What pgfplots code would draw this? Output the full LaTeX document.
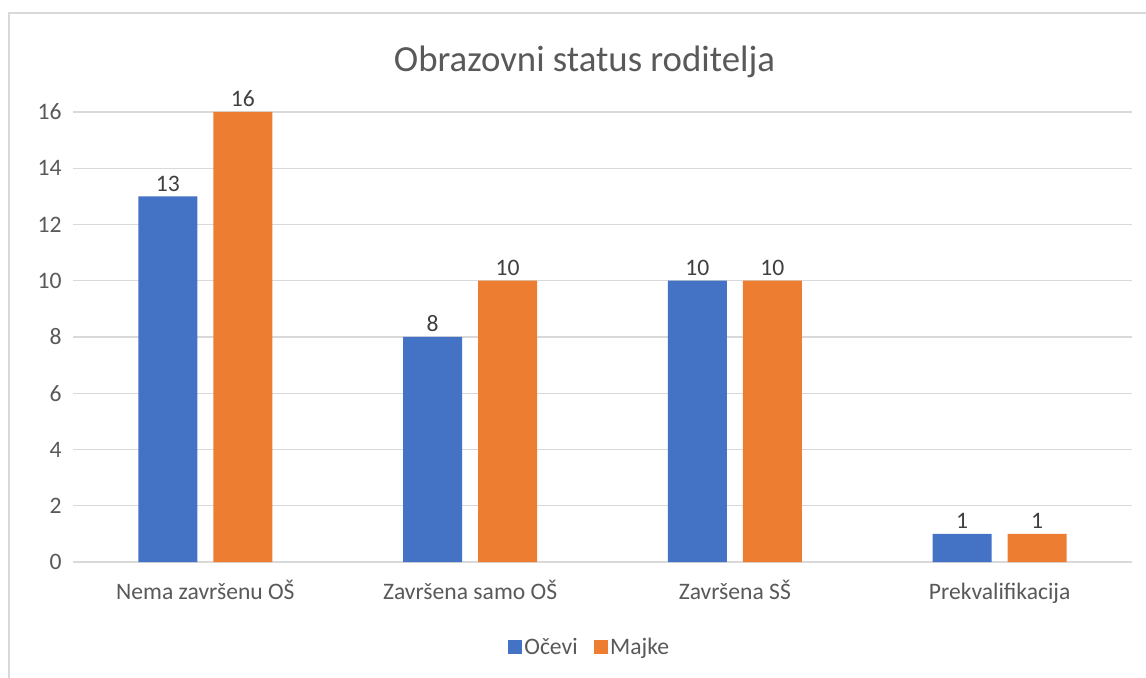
\documentclass[border=0pt]{standalone}
\usepackage{fontspec}
\setmainfont{Carlito}
\usepackage{pgfplots}
\pgfplotsset{compat=1.18}
\definecolor{cblue}{HTML}{4472C4}
\definecolor{corange}{HTML}{ED7D31}
\definecolor{cgrid}{HTML}{D9D9D9}
\definecolor{ctext}{HTML}{595959}
\definecolor{clabel}{HTML}{404040}
\begin{document}
\begin{tikzpicture}
\path[use as bounding box] (-54.75pt,-87pt) rectangle (804.75pt,421.5pt);
\fill[white] (-54.75pt,-87pt) rectangle (804.75pt,421.5pt);
\draw[cgrid, line width=1.2pt] (-48pt,-100pt) -- (-48pt,411.75pt) -- (820pt,411.75pt);
\begin{axis}[
  at={(0,0)}, anchor=south west,
  scale only axis,
  width=794.25pt, height=337.5pt,
  ybar=12pt, bar width=44.25pt,
  xmin=-0.5, xmax=3.5,
  ymin=0, ymax=16,
  enlarge y limits=false,
  ytick={0,2,...,16},
  xtick={0,1,2,3},
  xticklabels={Nema završenu OŠ, Završena samo OŠ, Završena SŠ, Prekvalifikacija},
  /pgf/number format/assume math mode=true,
  axis line style={draw=none},
  major tick style={draw=none},
  ymajorgrids,
  major grid style={cgrid, line width=1.1pt},
  tick label style={font=\fontsize{17.7}{20}\selectfont, text=ctext},
  xticklabel style={yshift=-8pt, text height=12.5pt, text depth=3.5pt},
  yticklabel style={xshift=-5pt},
  title={Obrazovni status roditelja},
  title style={font=\fontsize{27.6}{32}\selectfont, text=ctext, at={(rel axis cs:0.483,1.094)}, anchor=center},
  nodes near coords,
  every node near coord/.append style={font=\fontsize{17.7}{20}\selectfont, text=clabel, inner sep=3.5pt},
  legend columns=2,
  legend style={at={(rel axis cs:0.488,-0.189)}, anchor=center, draw=none, fill=none,
    font=\fontsize{17.7}{20}\selectfont, text=ctext,
    /tikz/every even column/.append style={column sep=10pt}},
  legend image code/.code={\fill[#1] (0pt,-5.2pt) rectangle (10.4pt,5.2pt);},
]
\addplot[fill=cblue, draw=none] coordinates {(0,13) (1,8) (2,10) (3,1)};
\addplot[fill=corange, draw=none] coordinates {(0,16) (1,10) (2,10) (3,1)};
\legend{Očevi, Majke}
\end{axis}
\end{tikzpicture}
\end{document}
